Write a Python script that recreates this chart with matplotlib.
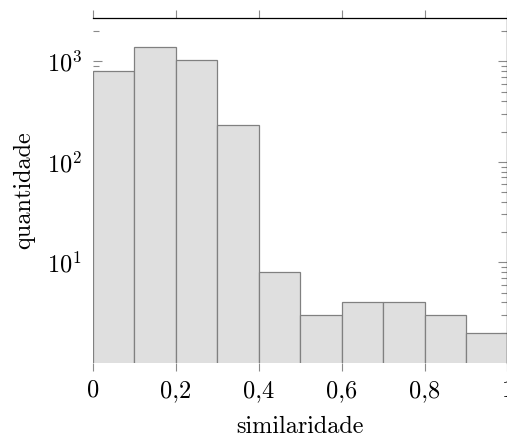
import matplotlib
matplotlib.use("Agg")
import matplotlib.pyplot as plt
from matplotlib.ticker import LogLocator, FixedLocator, NullFormatter

# Data
bin_edges = [0.0, 0.1, 0.2, 0.3, 0.4, 0.5, 0.6, 0.7, 0.8, 0.9, 1.0]
counts = [810, 1380, 1030, 235, 8, 3, 4, 4, 3, 2]
xtick_values = [0, 0.2, 0.4, 0.6, 0.8, 1.0]
xtick_labels = ["0", "0,2", "0,4", "0,6", "0,8", "1"]
ytick_values = [10, 100, 1000]
ytick_labels = [r"$10^{1}$", r"$10^{2}$", r"$10^{3}$"]

plt.rcParams["mathtext.fontset"] = "cm"
plt.rcParams["font.family"] = ["cmr10", "DejaVu Serif"]
plt.rcParams["axes.unicode_minus"] = False

W, H = 507, 440
fig = plt.figure(figsize=(W / 100, H / 100), dpi=100)
left, right, top, bottom = 93, 507.5, 18, 363
ax = fig.add_axes([left / W, 1 - bottom / H, (right - left) / W, (bottom - top) / H])

widths = [bin_edges[i + 1] - bin_edges[i] for i in range(len(counts))]
ax.bar(bin_edges[:-1], counts, width=widths, align="edge",
       color="#dfdfdf", edgecolor="#808080", linewidth=0.9, zorder=1)

ax.set_yscale("log")
ax.set_xlim(0, 1)
ax.set_ylim(1, 2700)
ax.set_axisbelow(True)

for s in ["left", "bottom"]:
    ax.spines[s].set_visible(False)
for s in ["top", "right"]:
    ax.spines[s].set_color("black")
    ax.spines[s].set_linewidth(0.9)

ax.xaxis.set_major_locator(FixedLocator(xtick_values))
ax.set_xticklabels(xtick_labels, fontsize=17.5)
ax.tick_params(axis="x", which="both", direction="out", top=True, bottom=True,
               length=6, width=0.8, color="#8a8a8a", pad=6)
ax.xaxis.set_minor_locator(FixedLocator([]))

ax.yaxis.set_major_locator(FixedLocator(ytick_values))
ax.set_yticklabels(ytick_labels, fontsize=17.5)
ax.yaxis.set_minor_locator(LogLocator(base=10, subs=range(2, 10)))
ax.yaxis.set_minor_formatter(NullFormatter())
ax.tick_params(axis="y", which="major", direction="in", left=True, right=True,
               length=6.5, width=0.8, color="#8a8a8a", pad=8)
ax.tick_params(axis="y", which="minor", direction="in", left=True, right=True,
               length=4, width=0.8, color="#8a8a8a")

ax.set_xlabel("similaridade", fontsize=17.5, labelpad=10)
ax.set_ylabel("quantidade", fontsize=17.5, labelpad=8)

fig.savefig("out.png", dpi=100)
